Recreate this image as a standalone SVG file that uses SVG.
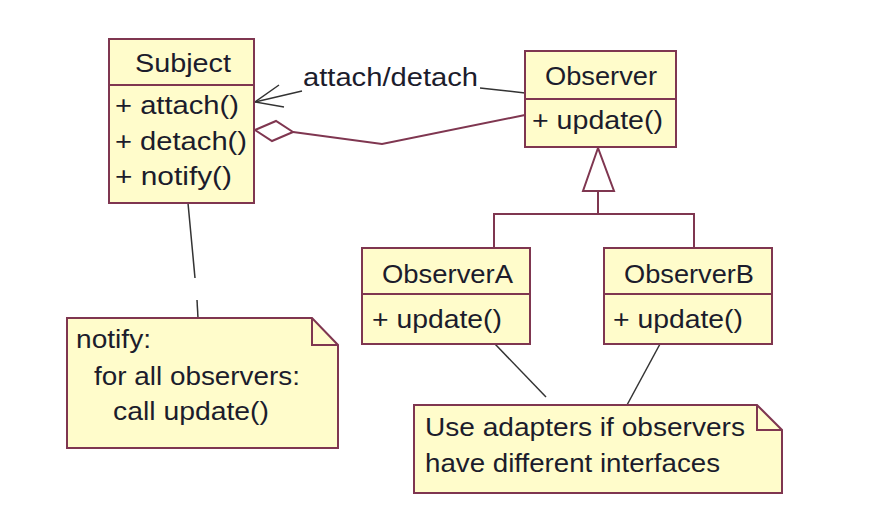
<svg xmlns="http://www.w3.org/2000/svg" width="878" height="526" viewBox="0 0 878 526">
<style>
.box{fill:#fffccb;stroke:#7f3650;stroke-width:2}
.div{stroke:#7f3650;stroke-width:2}
.t{font-family:"Liberation Sans",Arial,sans-serif;font-size:25px;fill:#1c1c2c}
.rel{fill:none;stroke:#7f3650;stroke-width:2}
.dk{fill:none;stroke:#333;stroke-width:1.5}
</style>
<rect width="878" height="526" fill="#fff"/>
<g id="connectors">
  <line class="dk" x1="525" y1="93" x2="480" y2="88"/>
  <line class="dk" x1="302" y1="91" x2="255" y2="102"/>
  <polyline class="dk" points="279,85 255,102 284,107"/>
  <polyline class="rel" points="525,115 382,144 293,132"/>
  <polygon points="255,130 276,121 293,132 272,141" fill="#fff" stroke="#7f3650" stroke-width="2"/>
  <line class="rel" x1="598" y1="191" x2="598" y2="214"/>
  <polyline class="rel" points="494,248 494,214 694,214 694,248"/>
  <polygon points="598,148 583,191 614,191" fill="#fff" stroke="#7f3650" stroke-width="2"/>
  <line class="dk" x1="188" y1="203" x2="195" y2="278"/>
  <line class="dk" x1="197" y1="300" x2="198" y2="318"/>
  <line class="dk" x1="495" y1="344" x2="546" y2="397"/>
  <line class="dk" x1="660" y1="344" x2="627" y2="405"/>
  <text class="t" x="303" y="86" textLength="175" lengthAdjust="spacingAndGlyphs">attach/detach</text>
</g>
<g id="subject">
  <rect class="box" x="109" y="39" width="145" height="164"/>
  <line class="div" x1="109" y1="85" x2="254" y2="85"/>
  <text class="t" x="135" y="72" textLength="96" lengthAdjust="spacingAndGlyphs">Subject</text>
  <text class="t" x="115" y="114" textLength="124" lengthAdjust="spacingAndGlyphs">+ attach()</text>
  <text class="t" x="115" y="150" textLength="132" lengthAdjust="spacingAndGlyphs">+ detach()</text>
  <text class="t" x="115" y="185" textLength="117" lengthAdjust="spacingAndGlyphs">+ notify()</text>
</g>
<g id="observer">
  <rect class="box" x="525" y="51" width="151" height="96"/>
  <line class="div" x1="525" y1="99" x2="676" y2="99"/>
  <text class="t" x="545" y="85" textLength="112" lengthAdjust="spacingAndGlyphs">Observer</text>
  <text class="t" x="532" y="129" textLength="131" lengthAdjust="spacingAndGlyphs">+ update()</text>
</g>
<g id="observerA">
  <rect class="box" x="362" y="248" width="168" height="96"/>
  <line class="div" x1="362" y1="294" x2="530" y2="294"/>
  <text class="t" x="382" y="283" textLength="131" lengthAdjust="spacingAndGlyphs">ObserverA</text>
  <text class="t" x="372" y="328" textLength="130" lengthAdjust="spacingAndGlyphs">+ update()</text>
</g>
<g id="observerB">
  <rect class="box" x="604" y="248" width="168" height="96"/>
  <line class="div" x1="604" y1="294" x2="772" y2="294"/>
  <text class="t" x="624" y="283" textLength="130" lengthAdjust="spacingAndGlyphs">ObserverB</text>
  <text class="t" x="613" y="328" textLength="130" lengthAdjust="spacingAndGlyphs">+ update()</text>
</g>
<g id="note-notify">
  <polygon class="box" points="67,318 312,318 338,345 338,448 67,448"/>
  <polyline class="rel" points="312,318 312,345 338,345"/>
  <text class="t" x="76" y="348" textLength="75" lengthAdjust="spacingAndGlyphs">notify:</text>
  <text class="t" x="94" y="385" textLength="206" lengthAdjust="spacingAndGlyphs">for all observers:</text>
  <text class="t" x="113" y="420" textLength="156" lengthAdjust="spacingAndGlyphs">call update()</text>
</g>
<g id="note-adapters">
  <polygon class="box" points="414,405 757,405 782,430 782,493 414,493"/>
  <polyline class="rel" points="757,405 757,430 782,430"/>
  <text class="t" x="425" y="436" textLength="320" lengthAdjust="spacingAndGlyphs">Use adapters if observers</text>
  <text class="t" x="425" y="472" textLength="295" lengthAdjust="spacingAndGlyphs">have different interfaces</text>
</g>
</svg>
